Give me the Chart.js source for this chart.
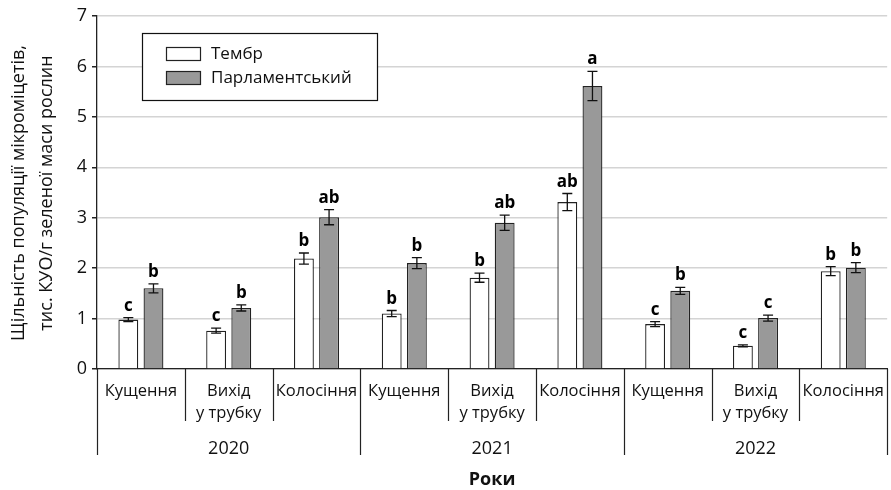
<!DOCTYPE html>
<html lang="uk">
<head>
<meta charset="utf-8">
<title>Щільність популяції мікроміцетів</title>
<script src="https://cdn.jsdelivr.net/npm/chart.js@4.4.1/dist/chart.umd.min.js"></script>
<style>
  html, body { margin: 0; padding: 0; background: #fff; overflow: hidden; }
  #wrap { width: 891px; height: 490px; overflow: hidden; }
  canvas { display: block; }
</style>
</head>
<body>
<div id="wrap"><canvas id="c" width="895" height="490"></canvas></div>
<script>
// Growth phases within each year
const phases = ["Кущення", ["Вихід", "у трубку"], "Колосіння",
                "Кущення", ["Вихід", "у трубку"], "Колосіння",
                "Кущення", ["Вихід", "у трубку"], "Колосіння"];
const years = ["2020", "2021", "2022"];

// Population density, thousand CFU per g of green mass
const tembr = [0.98, 0.76, 2.19, 1.10, 1.81, 3.31, 0.89, 0.46, 1.94];
const parlament = [1.60, 1.21, 3.01, 2.10, 2.90, 5.61, 1.55, 1.01, 2.01];

// Error half-widths
const tembrErr = [0.04, 0.05, 0.11, 0.06, 0.09, 0.17, 0.05, 0.02, 0.09];
const parlamentErr = [0.09, 0.06, 0.15, 0.11, 0.15, 0.29, 0.07, 0.06, 0.10];

// Significance letters
const tembrSig = ["c", "c", "b", "b", "b", "ab", "c", "c", "b"];
const parlamentSig = ["b", "b", "ab", "b", "ab", "a", "b", "c", "b"];

const yTicks = [0, 1, 2, 3, 4, 5, 6, 7];

const FONT = "'Open Sans', 'Noto Sans', sans-serif";

const extras = {
  id: 'extras',
  afterDatasetsDraw(chart) {
    const ctx = chart.ctx;
    const x = chart.scales.x, y = chart.scales.y;
    const area = chart.chartArea;
    const errs = [tembrErr, parlamentErr];
    const sigs = [tembrSig, parlamentSig];

    // error bars and letters
    ctx.save();
    chart.data.datasets.forEach((ds, di) => {
      const meta = chart.getDatasetMeta(di);
      meta.data.forEach((bar, i) => {
        const v = ds.data[i], e = errs[di][i];
        const yt = y.getPixelForValue(v + e), yb = y.getPixelForValue(v - e);
        const cx = bar.x;
        ctx.strokeStyle = '#111';
        ctx.lineWidth = 1.3;
        ctx.beginPath();
        ctx.moveTo(cx, yt); ctx.lineTo(cx, yb);
        ctx.moveTo(cx - 5, yt); ctx.lineTo(cx + 5, yt);
        ctx.moveTo(cx - 5, yb); ctx.lineTo(cx + 5, yb);
        ctx.stroke();
        ctx.fillStyle = '#000';
        ctx.font = "bold 17px " + FONT;
        ctx.textAlign = 'center';
        ctx.textBaseline = 'alphabetic';
        ctx.fillText(sigs[di][i], cx, yt - 7);
      });
    });
    ctx.restore();

    // grouped category axis: dividers, years, title
    ctx.save();
    const n = chart.data.labels.length;
    const step = (area.right - area.left) / n;
    ctx.strokeStyle = '#222';
    ctx.lineWidth = 1.2;
    for (let i = 0; i <= n; i++) {
      const px = Math.round(area.left + i * step) + 0.5;
      const long = (i % 3 === 0);
      ctx.beginPath();
      ctx.moveTo(px, area.bottom);
      ctx.lineTo(px, long ? area.bottom + 86 : area.bottom + 52);
      ctx.stroke();
    }
    ctx.fillStyle = '#111';
    ctx.font = "18px " + FONT;
    ctx.textAlign = 'center';
    ctx.textBaseline = 'middle';
    years.forEach((yr, k) => {
      const cx = area.left + (k * 3 + 1.5) * step;
      ctx.fillText(yr, cx, area.bottom + 80);
    });
    ctx.font = "bold 18px " + FONT;
    ctx.fillText("Роки", (area.left + area.right) / 2, area.bottom + 111);

    // y axis title, two rotated lines
    ctx.translate(0, 193);
    ctx.rotate(-Math.PI / 2);
    ctx.font = "18px " + FONT;
    ctx.fillStyle = '#111';
    ctx.fillText("Щільність популяції мікроміцетів,", 0, 19);
    ctx.fillText("тис. КУО/г зеленої маси рослин", 0, 47);
    ctx.restore();

    // legend box
    ctx.save();
    const lx = 142, ly = 33, lw = 235, lh = 67;
    ctx.fillStyle = '#fff';
    ctx.fillRect(lx, ly, lw, lh);
    ctx.strokeStyle = '#111';
    ctx.lineWidth = 1.2;
    ctx.strokeRect(lx + 0.5, ly + 0.5, lw, lh);
    ctx.font = "17px " + FONT;
    ctx.textAlign = 'left';
    ctx.textBaseline = 'middle';
    chart.data.datasets.forEach((ds, di) => {
      const sy = di === 0 ? 47 : 71;
      ctx.fillStyle = ds.backgroundColor;
      ctx.fillRect(166.5, sy + 0.5, 34, 13);
      ctx.strokeStyle = '#222';
      ctx.lineWidth = 1.2;
      ctx.strokeRect(166.5, sy + 0.5, 34, 13);
      ctx.fillStyle = '#111';
      ctx.fillText(ds.label, 211, sy + 7);
    });
    ctx.restore();
  }
};

new Chart(document.getElementById('c'), {
  type: 'bar',
  data: {
    labels: phases,
    datasets: [
      { label: 'Тембр', data: tembr, backgroundColor: '#ffffff', borderColor: '#222', borderWidth: 1.3,
        categoryPercentage: 0.573, barPercentage: 0.79 },
      { label: 'Парламентський', data: parlament, backgroundColor: '#999999', borderColor: '#222', borderWidth: 1.3,
        categoryPercentage: 0.573, barPercentage: 0.79 }
    ]
  },
  options: {
    responsive: false,
    animation: false,
    devicePixelRatio: 1,
    layout: { padding: { top: 16, right: 0, bottom: 0, left: 0 } },
    plugins: { legend: { display: false }, tooltip: { enabled: false } },
    scales: {
      x: {
        offset: true,
        grid: { display: false, drawTicks: false },
        border: { display: true, color: '#222', width: 1.3 },
        ticks: {
          color: '#111', padding: 11, maxRotation: 0, autoSkip: false,
          font: { family: FONT, size: 16.5, lineHeight: 1.33 }
        },
        afterFit(s) { s.height = 121; }
      },
      y: {
        min: 0, max: 7,
        afterBuildTicks(s) { s.ticks = yTicks.map(v => ({ value: v })); },
        grid: { color: '#d4d4d4', lineWidth: 1.5, tickColor: '#222', tickLength: 5, drawTicks: true },
        border: { display: true, color: '#222', width: 1.3 },
        ticks: { color: '#111', padding: 5, font: { family: FONT, size: 18 } },
        afterFit(s) { s.width = 97; }
      }
    }
  },
  plugins: [extras]
});
</script>
</body>
</html>
